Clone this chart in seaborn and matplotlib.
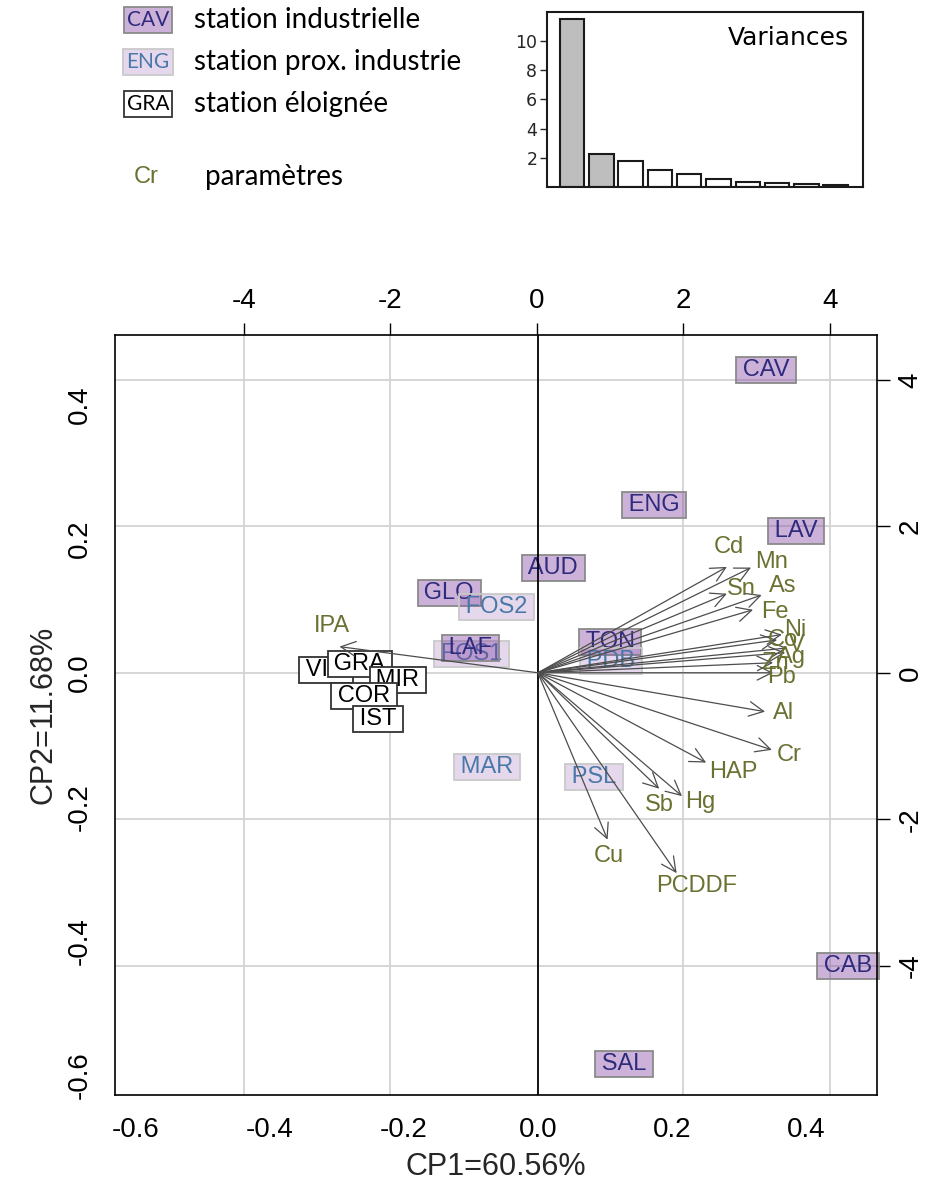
import matplotlib
matplotlib.use("Agg")
import matplotlib.pyplot as plt
import seaborn as sns
import pandas as pd

# ---------------- data ----------------
eig_rank = ["1", "2", "3", "4", "5", "6", "7", "8", "9", "10"]
eig_values = [11.47, 2.23, 1.78, 1.18, 0.88, 0.58, 0.33, 0.26, 0.19, 0.17]
eig_kept = [True, True, False, False, False, False, False, False, False, False]

stations = ["CAV", "ENG", "LAV", "AUD", "GLO", "FOS2", "FOS1", "LAF", "TON", "PDB",
            "MAR", "PSL", "CAB", "SAL", "VIG", "GRA", "MIR", "COR", "IST"]
station_cp1 = [3.13, 1.60, 3.54, 0.22, -1.20, -0.55, -0.89, -0.91, 1.00, 1.01,
               -0.68, 0.78, 4.25, 1.19, -2.88, -2.42, -1.90, -2.36, -2.17]
station_cp2 = [4.14, 2.29, 1.94, 1.43, 1.09, 0.90, 0.26, 0.34, 0.42, 0.16,
               -1.28, -1.42, -4.00, -5.34, 0.04, 0.12, -0.10, -0.31, -0.63]
station_group = ["ind", "ind", "ind", "ind", "ind", "prox", "prox", "ind", "ind", "prox",
                 "prox", "prox", "ind", "ind", "far", "far", "far", "far", "far"]

params = ["Cd", "Mn", "Sn", "As", "Fe", "Ni", "Co", "V", "Ag", "Zn", "Pb", "Al",
          "Cr", "HAP", "Sb", "Hg", "Cu", "PCDDF", "IPA"]
param_cp1 = [0.282, 0.318, 0.282, 0.334, 0.321, 0.364, 0.357, 0.372, 0.369, 0.351,
             0.351, 0.339, 0.349, 0.251, 0.181, 0.215, 0.104, 0.207, -0.296]
param_cp2 = [0.158, 0.157, 0.118, 0.116, 0.094, 0.057, 0.049, 0.037, 0.030, 0.015,
             0.000, -0.058, -0.115, -0.134, -0.173, -0.184, -0.249, -0.299, 0.039]

xlab = "CP1=60.56%"
ylab = "CP2=11.68%"
legend_labels = ["station industrielle", "station prox. industrie", "station éloignée", "paramètres"]
legend_codes = ["CAV", "ENG", "GRA", "Cr"]

# label placement for the variable names (loading units)
LABEL_POS = {
    "Cd": (0.285, 0.188), "Mn": (0.348, 0.166), "Sn": (0.304, 0.125), "As": (0.366, 0.130),
    "Fe": (0.354, 0.090), "Ni": (0.384, 0.064), "Co": (0.366, 0.049), "V": (0.387, 0.042),
    "Ag": (0.378, 0.024), "Zn": (0.354, 0.015), "Pb": (0.364, -0.006), "Al": (0.367, -0.060),
    "Cr": (0.375, -0.122), "HAP": (0.291, -0.148), "Sb": (0.181, -0.197), "Hg": (0.243, -0.193),
    "Cu": (0.106, -0.273), "PCDDF": (0.237, -0.318), "IPA": (-0.307, 0.070),
}

# ---------------- style ----------------
sns.set_theme(style="white")
plt.rcParams["font.family"] = ["Liberation Sans", "DejaVu Sans"]
plt.rcParams["axes.unicode_minus"] = False

OLIVE = "#6B7131"
NAVY = "#2E2B7C"
BLUE = "#4A78A8"
STYLE = {
    "ind": dict(color=NAVY, fc=(0.50, 0.25, 0.63, 0.40), ec="#8a8a8a"),
    "prox": dict(color=BLUE, fc=(0.50, 0.25, 0.63, 0.20), ec="#c9c9c9"),
    "far": dict(color="black", fc="white", ec="#333333"),
}
THIN = "\u2009"

W, H = 925, 1192
fig = plt.figure(figsize=(W / 100, H / 100), dpi=100)

def rect(l, t, r, b):
    return [l / W, 1 - b / H, (r - l) / W, (b - t) / H]

main_rect = rect(115, 335, 877, 1095)

# score axes (top / right) -------------------------------------------
ax_s = fig.add_axes(main_rect, zorder=1)
ax_s.set_xlim(-5.761, 4.642)
ax_s.set_ylim(-5.761, 4.614)
ax_s.set_facecolor("white")
for v in [-4, -2, 2, 4]:
    ax_s.axvline(v, color="#d3d3d3", lw=1.3, zorder=0)
for v in [-4, -2, 0, 2, 4]:
    ax_s.axhline(v, color="#d3d3d3", lw=1.3, zorder=0)
ax_s.xaxis.tick_top()
ax_s.yaxis.tick_right()
ax_s.set_xticks([-4, -2, 0, 2, 4])
ax_s.set_yticks([-4, -2, 0, 2, 4])
ax_s.tick_params(axis="both", which="both", direction="out", length=9, width=1,
                 colors="black", labelsize=20, pad=6)
for lab in ax_s.get_yticklabels():
    lab.set_rotation(90)
    lab.set_va("center")
for sp in ax_s.spines.values():
    sp.set_visible(False)

df_st = pd.DataFrame({"name": stations, "cp1": station_cp1, "cp2": station_cp2, "grp": station_group})
for _, r in df_st.iterrows():
    st = STYLE[r["grp"]]
    ax_s.text(r["cp1"], r["cp2"], THIN + r["name"] + THIN, ha="center", va="center",
              fontsize=17, color=st["color"], zorder=3,
              bbox=dict(boxstyle="square,pad=0.08", fc=st["fc"], ec=st["ec"], lw=1.3))

# loading axes (bottom / left) ----------------------------------------
ax = fig.add_axes(main_rect, zorder=2)
ax.set_facecolor("none")
ax.set_xlim(-0.631, 0.506)
ax.set_ylim(-0.630, 0.504)
ax.axvline(0, color="black", lw=1.3, zorder=1)
ticks = [-0.6, -0.4, -0.2, 0.0, 0.2, 0.4]
ax.set_xticks(ticks)
ax.set_xticklabels([f"{t:.1f}" for t in ticks])
ax.set_yticks(ticks)
ax.set_yticklabels([f"{t:.1f}" for t in ticks], rotation=90, va="center")
ax.tick_params(axis="both", direction="out", length=9, width=1, colors="black",
               labelsize=20, pad=7)
for sp in ax.spines.values():
    sp.set_color("black")
    sp.set_linewidth(1.2)
ax.set_xlabel(xlab, fontsize=22, labelpad=6)
ax.set_ylabel(ylab, fontsize=22, labelpad=6)

for name, x, y in zip(params, param_cp1, param_cp2):
    ax.annotate("", xy=(x, y), xytext=(0, 0),
                arrowprops=dict(arrowstyle="->,head_length=0.7,head_width=0.35",
                                color="#4d4d4d", lw=0.9, shrinkA=0, shrinkB=0,
                                mutation_scale=15), zorder=2)
    lx, ly = LABEL_POS[name]
    ax.text(lx, ly, name, ha="center", va="center", fontsize=17, color=OLIVE, zorder=3)

# variance inset -------------------------------------------------------
ax_v = fig.add_axes(rect(547, 12, 863, 187))
df_v = pd.DataFrame({"rank": eig_rank, "var": eig_values})
pal = {r: ("#bebebe" if k else "white") for r, k in zip(eig_rank, eig_kept)}
sns.barplot(data=df_v, x="rank", y="var", hue="rank", palette=pal, legend=False,
            edgecolor="#1a1a1a", linewidth=1.5, width=0.836, ax=ax_v)
ax_v.set_xlim(-0.853, 9.93)
ax_v.set_ylim(0, 11.97)
ax_v.set_xticks([])
ax_v.set_yticks([2, 4, 6, 8, 10])
ax_v.tick_params(axis="y", direction="out", length=5, width=1, labelsize=12.5, pad=2,
                 left=True, labelfontfamily="DejaVu Sans")
ax_v.set_xlabel("")
ax_v.set_ylabel("")
for sp in ax_v.spines.values():
    sp.set_color("#1a1a1a")
    sp.set_linewidth(1.5)
    sp.set_visible(True)
ax_v.text(0.955, 0.85, "Variances", transform=ax_v.transAxes, ha="right", va="center",
          fontsize=18, family="DejaVu Sans", color="black")

# legend -----------------------------------------------------------------
leg_y = [20, 62, 104]
leg_grp = ["ind", "prox", "far"]
for code, lab, yy, g in zip(legend_codes[:3], legend_labels[:3], leg_y, leg_grp):
    st = STYLE[g]
    fig.text(148 / W, 1 - yy / H, code, ha="center", va="center", fontsize=15,
             family="Lato", color=st["color"],
             bbox=dict(boxstyle="square,pad=0.15", fc=st["fc"], ec=st["ec"], lw=1.3))
    fig.text(194 / W, 1 - yy / H, lab, ha="left", va="center", fontsize=20,
             family="Lato", color="black")
fig.text(146 / W, 1 - 177 / H, legend_codes[3], ha="center", va="center", fontsize=17,
         color=OLIVE)
fig.text(205 / W, 1 - 177 / H, legend_labels[3], ha="left", va="center", fontsize=20,
         family="Lato", color="black")

fig.savefig("out.png", dpi=100)
